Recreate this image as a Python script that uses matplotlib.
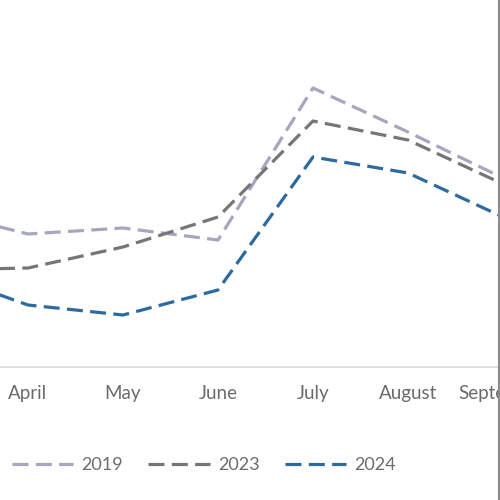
import matplotlib
matplotlib.use("Agg")
import matplotlib.pyplot as plt
from matplotlib.lines import Line2D

months = ['March', 'April', 'May', 'June', 'July', 'August', 'September']
y2019 = [157, 133, 139, 127, 279, 235, 189]
y2023 = [97, 99, 120, 150, 246, 227, 183]
y2024 = [96, 62, 52, 77, 210, 194, 150]

plt.rcParams['font.family'] = ['Lato', 'DejaVu Sans']
txt = '#6b6b6b'

fig = plt.figure(figsize=(5, 5), dpi=100)
# axes runs a bit past the right edge so the cut-off September label still shows
ax = fig.add_axes([0, 133 / 500, 560 / 500, 367 / 500])

x = range(len(months))
dash = (5, 2.3)
ax.plot(x, y2019, color='#a6a6c0', lw=2.3, dashes=dash, label='2019')
ax.plot(x, y2023, color='#767676', lw=2.3, dashes=dash, label='2023')
ax.plot(x, y2024, color='#2c6aa0', lw=2.3, dashes=dash, label='2024')

ax.set_xticks(list(x))
ax.set_xticklabels(months)
x0 = 1 - 28 / 95
ax.set_xlim(x0, x0 + 560 / 95)
ax.set_ylim(0, 367)
ax.set_yticks([])
ax.tick_params(axis='x', length=0, pad=13, labelsize=13.5, labelcolor=txt)
for s in ['top', 'left', 'right']:
    ax.spines[s].set_visible(False)
ax.spines['bottom'].set_color('#d9d9d9')
ax.spines['bottom'].set_linewidth(1.2)

fig.legend(loc='center left', bbox_to_anchor=(12 / 500, 35 / 500), ncol=3,
           frameon=False, fontsize=13, labelcolor=txt, handlelength=3.4,
           handletextpad=0.45, columnspacing=1.4, borderpad=0, borderaxespad=0)

fig.add_artist(Line2D([0.997, 0.997], [0, 1], color='#8c8c8c', lw=2.2))

fig.savefig('out.png', dpi=100)
